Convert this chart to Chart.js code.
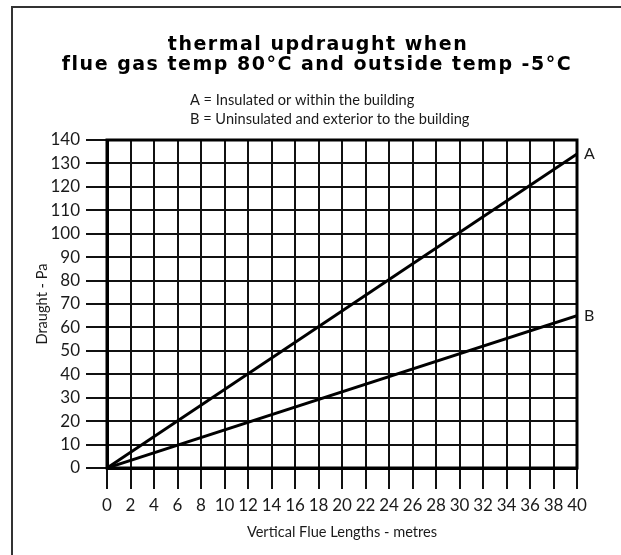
<!DOCTYPE html>
<html>
<head>
<meta charset="utf-8">
<script src="https://cdn.jsdelivr.net/npm/chart.js@4"></script>
<style>
  html, body { margin: 0; padding: 0; background: #fff; }
  canvas { display: block; }
</style>
</head>
<body>
<canvas id="chart" width="621" height="555"></canvas>
<script>
const lengths = [0, 40];
const seriesA = [0, 134];
const seriesB = [0, 65];
const seriesNames = ["A", "B"];
const titleLines = ["thermal updraught when", "flue gas temp 80°C and outside temp -5°C"];
const legendLines = ["A = Insulated or within the building", "B = Uninsulated and exterior to the building"];

const ink = "#1a1a1a";

const toPoints = vals => vals.map((v, i) => ({x: lengths[i], y: v}));

// title, key text, frame and end labels
const decor = {
  id: "decor",
  beforeDraw(chart){
    const ctx = chart.ctx;
    ctx.save();
    ctx.fillStyle = "#fff";
    ctx.fillRect(0, 0, chart.width, chart.height);
    ctx.strokeStyle = "#333";
    ctx.lineWidth = 2;
    ctx.beginPath();
    ctx.moveTo(12, chart.height);
    ctx.lineTo(12, 7);
    ctx.lineTo(chart.width, 7);
    ctx.stroke();
    ctx.restore();
  },
  afterDraw(chart){
    const ctx = chart.ctx;
    const area = chart.chartArea;
    const xs = chart.scales.x, ys = chart.scales.y;
    ctx.save();
    ctx.strokeStyle = "#000";
    ctx.lineWidth = 3;
    ctx.strokeRect(area.left, area.top, area.right - area.left, area.bottom - area.top);

    ctx.fillStyle = "#000";
    ctx.textAlign = "center";
    ctx.textBaseline = "middle";
    ctx.font = "bold 19px 'DejaVu Sans'";
    ctx.letterSpacing = "1.5px";
    ctx.fillText(titleLines[0], 318, 45);
    ctx.fillText(titleLines[1], 317, 65);
    ctx.letterSpacing = "0px";

    ctx.fillStyle = ink;
    ctx.textAlign = "left";
    ctx.font = "14.6px Lato";
    ctx.fillText(legendLines[0], 190, 100);
    ctx.fillText(legendLines[1], 190, 119);

    ctx.font = "16px Lato";
    [seriesA, seriesB].forEach((vals, i) => {
      const last = vals.length - 1;
      ctx.fillText(seriesNames[i], xs.getPixelForValue(lengths[last]) + 7, ys.getPixelForValue(vals[last]));
    });
    ctx.restore();
  }
};

new Chart(document.getElementById("chart"), {
  type: "line",
  data: {
    datasets: [
      {label: seriesNames[0], data: toPoints(seriesA), borderColor: "#000", borderWidth: 3, pointRadius: 0, tension: 0},
      {label: seriesNames[1], data: toPoints(seriesB), borderColor: "#000", borderWidth: 3, pointRadius: 0, tension: 0}
    ]
  },
  options: {
    responsive: false,
    animation: false,
    layout: {padding: {top: 140, right: 44, left: 0, bottom: 0}},
    plugins: {legend: {display: false}, tooltip: {enabled: false}, title: {display: false}},
    scales: {
      x: {
        type: "linear", min: 0, max: 40,
        afterFit: s => { s.height = 87; },
        ticks: {stepSize: 2, color: ink, font: {family: "Lato", size: 17}, padding: 6, maxRotation: 0, autoSkip: false},
        grid: {color: "#111", lineWidth: 2, tickLength: 21, tickColor: "#111", tickWidth: 2},
        border: {display: true, color: "#000", width: 3},
        title: {display: true, text: "Vertical Flue Lengths - metres", color: ink, font: {family: "Lato", size: 14.6}, padding: {top: 0, bottom: 14}}
      },
      y: {
        min: 0, max: 140,
        afterFit: s => { s.width = 107; },
        ticks: {stepSize: 10, color: ink, font: {family: "Lato", size: 17}, padding: 6},
        grid: {color: "#111", lineWidth: 2, tickLength: 21, tickColor: "#111", tickWidth: 2},
        border: {display: true, color: "#000", width: 3},
        title: {display: true, text: "Draught - Pa", color: ink, font: {family: "Lato", size: 14.6}, padding: {top: 34, bottom: 0}}
      }
    }
  },
  plugins: [decor]
});
</script>
</body>
</html>
